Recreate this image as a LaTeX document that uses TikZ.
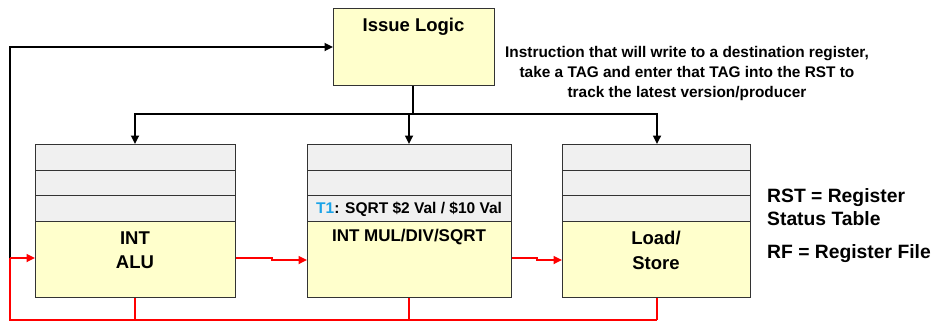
\documentclass[tikz,border=0pt]{standalone}
\usepackage{fontspec}
\setmainfont{Liberation Sans}
\usetikzlibrary{arrows.meta}
\definecolor{boxgray}{HTML}{F0F0F0}
\definecolor{boxyellow}{HTML}{FFFFCC}
\definecolor{edge}{HTML}{333333}
\definecolor{tagblue}{HTML}{1AA3E8}
\definecolor{wirered}{HTML}{FF0000}
\tikzset{
  rowbox/.style={draw=edge, line width=1pt, fill=boxgray, rectangle, anchor=north west, inner sep=0pt, minimum height=25.67pt},
  unitbox/.style={draw=edge, line width=1pt, fill=boxyellow, rectangle, anchor=north west, inner sep=0pt, minimum height=76pt},
  blackwire/.style={line width=1.7pt, black},
  redwire/.style={line width=1.7pt, wirered},
  tip/.style={-{Triangle[length=8.5pt,width=8pt]}},
  lbl/.style={font=\bfseries\fontsize{#1}{#1}\selectfont, inner sep=0pt, align=center}
}
\begin{document}
\begin{tikzpicture}[x=1pt,y=-1pt]
\useasboundingbox (0,0) rectangle (934,322);
% Issue logic
\node[draw=edge, line width=1pt, fill=boxyellow, anchor=north west, minimum width=161pt, minimum height=77pt, inner sep=0pt] (issue) at (333,8) {};
\node[lbl=18.5] (issuetxt) at (413.5,27) {Issue Logic};
\node[lbl=15.4, align=center] (note) at (687,73.5) {Instruction that will write to a destination register,\\[4.2pt]take a TAG and enter that TAG into the RST to\\[4.2pt]track the latest version/producer};
% ALU
\node[rowbox, minimum width=200pt] (a1) at (35,144) {};
\node[rowbox, minimum width=200pt] (a2) at (35,169.67) {};
\node[rowbox, minimum width=200pt] (a3) at (35,195.33) {};
\node[unitbox, minimum width=200pt] (alu) at (35,221) {};
\node[lbl=18.5] (alutxt) at (135,250) {INT\\[6pt]ALU};
% MUL
\node[rowbox, minimum width=204pt] (m1) at (307,144) {};
\node[rowbox, minimum width=204pt] (m2) at (307,169.67) {};
\node[rowbox, minimum width=204pt] (m3) at (307,195.33) {};
\node[unitbox, minimum width=204pt] (mul) at (307,221) {};
\node[lbl=15.5, anchor=west] (t1) at (316,209) {\textcolor{tagblue}{T1}: SQRT \$2 Val / \$10 Val};
\node[lbl=17] (multxt) at (409,237) {INT MUL/DIV/SQRT};
% Load/Store
\node[rowbox, minimum width=188pt] (l1) at (562,144) {};
\node[rowbox, minimum width=188pt] (l2) at (562,169.67) {};
\node[rowbox, minimum width=188pt] (l3) at (562,195.33) {};
\node[unitbox, minimum width=188pt] (ls) at (562,221) {};
\node[lbl=18.5] (lstxt) at (656,250.5) {Load/\\[6pt]Store};
% legend
\node[lbl=19.3, anchor=west, align=left] (rst) at (767,207) {RST = Register\\[4pt]Status Table};
\node[lbl=19.3, anchor=west] (rf) at (767,254) {RF = Register File};
% issue distribution
\coordinate (split) at (413,114);
\draw[blackwire] (issue.south -| split) -- (split);
\draw[blackwire, tip] (split) -| (a1.north -| 135,0);
\draw[blackwire, tip] (split) -| (m1.north -| 409,0);
\draw[blackwire, tip] (split) -| (l1.north -| 657,0);
% feedback
\coordinate (fbtop) at (10,47);
\coordinate (fbmid) at (10,258);
\coordinate (fbbot) at (10,320);
\draw[blackwire, tip] (fbmid) -- (fbtop) -- (issue.west |- fbtop);
\draw[redwire, tip] (fbmid) -- (alu.west |- fbmid);
% red wires between units
\coordinate (s1) at (272,258);
\coordinate (s2) at (537,258);
\draw[redwire, tip] (alu.east |- s1) -- (s1) -- ++(0,2) -- (mul.west |- 0,260);
\draw[redwire, tip] (mul.east |- s2) -- (s2) -- ++(0,2) -- (ls.west |- 0,260);
% red bottom bus
\draw[redwire] (fbmid) -- (fbbot) -- (657,320);
\draw[redwire] (alu.south -| 135,0) -- (135,320);
\draw[redwire] (mul.south -| 409,0) -- (409,320);
\draw[redwire] (ls.south -| 657,0) -- (657,320);
\end{tikzpicture}
\end{document}
